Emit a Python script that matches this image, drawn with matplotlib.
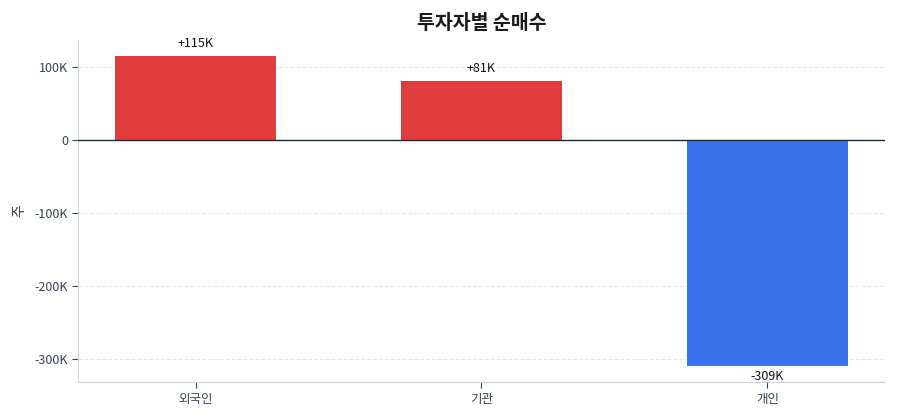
import matplotlib
matplotlib.use("Agg")
import matplotlib.pyplot as plt
from matplotlib.ticker import FuncFormatter

plt.rcParams['font.family'] = ['Noto Sans CJK KR', 'DejaVu Sans']

# 투자자별 순매수 (단위: 주)
investors = ["외국인", "기관", "개인"]
net_buy = [115000, 81000, -309000]
value_labels = ["+115K", "+81K", "-309K"]

colors = ["#e03c3c" if v >= 0 else "#3b73ec" for v in net_buy]

fig, ax = plt.subplots(figsize=(9, 4.2), dpi=100)
fig.subplots_adjust(left=0.087, right=0.983, top=0.905, bottom=0.09)

x = range(len(investors))
bars = ax.bar(x, net_buy, width=0.56, color=colors, zorder=3)

for b, v, lab in zip(bars, net_buy, value_labels):
    cx = b.get_x() + b.get_width() / 2
    if v >= 0:
        ax.annotate(lab, (cx, v), xytext=(0, 4), textcoords="offset points",
                    ha="center", va="bottom", fontsize=9, color="#111111")
    else:
        ax.annotate(lab, (cx, v), xytext=(0, -3), textcoords="offset points",
                    ha="center", va="top", fontsize=9, color="#111111")

ax.axhline(0, color="#1e293b", linewidth=1.0, zorder=4)

ax.set_xlim(-0.41, 2.41)
ax.set_ylim(-331500, 137000)
ax.set_yticks([-300000, -200000, -100000, 0, 100000])
ax.yaxis.set_major_formatter(FuncFormatter(lambda v, p: "0" if v == 0 else f"{int(v/1000)}K"))
ax.set_xticks(list(x))
ax.set_xticklabels(investors)

ax.set_title("투자자별 순매수", fontsize=14, fontweight="bold", color="#1a1a1a", pad=8)
ax.set_ylabel("주", fontsize=10, color="#333333", labelpad=6)

ax.grid(axis="y", linestyle="--", color="#e5e7eb", linewidth=0.8, zorder=0)
for s in ["top", "right"]:
    ax.spines[s].set_visible(False)
for s in ["left", "bottom"]:
    ax.spines[s].set_color("#cbd5e1")
ax.tick_params(axis="both", colors="#374151", labelsize=9, length=4)
ax.tick_params(axis="both", color="#374151")

fig.savefig("out.png", dpi=100)
